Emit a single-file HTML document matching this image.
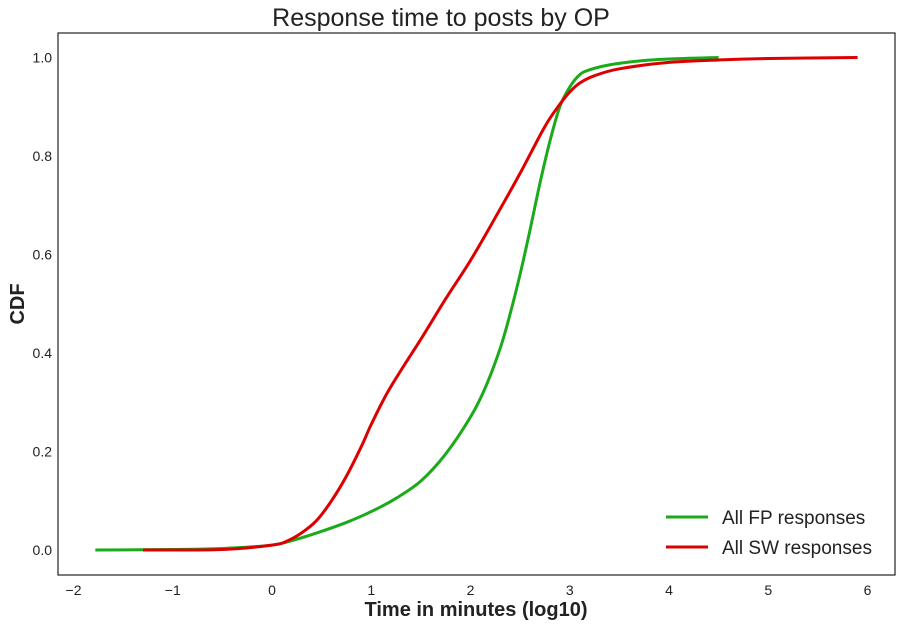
<!DOCTYPE html>
<html><head><meta charset="utf-8"><style>
body{margin:0;background:#fff;}
svg text{font-family:"Liberation Sans","DejaVu Sans",sans-serif;fill:#222;}
</style></head><body>
<svg id="chart" width="901" height="627" viewBox="0 0 901 627">
<rect x="0" y="0" width="901" height="627" fill="#fff"/>
<text x="441" y="26" font-size="25" text-anchor="middle">Response time to posts by OP</text>
<g id="xt"></g>
<g id="yt"></g>
<g id="series"></g>
<rect x="58" y="33" width="837" height="542" fill="none" stroke="#222" stroke-width="1.2"/>
<text x="476" y="616" font-size="20" font-weight="bold" text-anchor="middle">Time in minutes (log10)</text>
<text transform="translate(24,304) rotate(-90)" font-size="20" font-weight="bold" text-anchor="middle">CDF</text>
<g>
<line x1="666" y1="517" x2="708" y2="517" stroke="#1aaa1a" stroke-width="3"/>
<text x="722" y="524" font-size="19">All FP responses</text>
<line x1="666" y1="547" x2="708" y2="547" stroke="#dd0000" stroke-width="3"/>
<text x="722" y="554" font-size="19">All SW responses</text>
</g>
</svg>
<script>
const xTicks=[-2,-1,0,1,2,3,4,5,6];
const yTicks=[0.0,0.2,0.4,0.6,0.8,1.0];
const fpX=[-1.78,-1,-0.5,0,0.25,0.5,0.75,1,1.25,1.5,1.75,2,2.15,2.3,2.4,2.5,2.6,2.7,2.8,2.9,3.0,3.1,3.2,3.4,3.7,4.0,4.5];
const fpY=[0,0.001,0.003,0.01,0.022,0.038,0.056,0.078,0.105,0.14,0.195,0.27,0.33,0.41,0.48,0.56,0.65,0.745,0.83,0.9,0.94,0.965,0.975,0.985,0.993,0.997,1.0];
const swX=[-1.3,-0.5,0,0.15,0.3,0.45,0.6,0.75,0.9,1,1.15,1.3,1.5,1.75,2,2.25,2.5,2.75,2.9,3.0,3.1,3.25,3.5,4,4.5,5,5.9];
const swY=[0,0.001,0.01,0.018,0.035,0.06,0.1,0.15,0.21,0.255,0.315,0.365,0.428,0.51,0.588,0.675,0.765,0.86,0.905,0.93,0.948,0.963,0.977,0.99,0.995,0.998,1.0];
const X=v=>272+v*99.25, Y=v=>550-v*492.5;
const NS="http://www.w3.org/2000/svg";
const xt=document.getElementById('xt'), yt=document.getElementById('yt'), sg=document.getElementById('series');
xTicks.forEach(t=>{
  const tx=document.createElementNS(NS,'text');
  tx.setAttribute('x',X(t));tx.setAttribute('y',595);tx.setAttribute('font-size','14');tx.setAttribute('text-anchor','middle');
  tx.textContent=(t<0?'\u2212'+(-t):t);
  
  
  xt.appendChild(tx);
});
yTicks.forEach(t=>{
  const tx=document.createElementNS(NS,'text');
  tx.setAttribute('x',52);tx.setAttribute('y',Y(t)+5);tx.setAttribute('font-size','14');tx.setAttribute('text-anchor','end');
  tx.textContent=t.toFixed(1);
  
  
  yt.appendChild(tx);
});
function path(xs,ys){
  const p=xs.map((x,i)=>[X(x),Y(ys[i])]);
  let d='M'+p[0][0]+','+p[0][1];
  for(let i=0;i<p.length-1;i++){
    const p0=p[Math.max(0,i-1)],p1=p[i],p2=p[i+1],p3=p[Math.min(p.length-1,i+2)];
    const c1=[p1[0]+(p2[0]-p0[0])/6,p1[1]+(p2[1]-p0[1])/6];
    const c2=[p2[0]-(p3[0]-p1[0])/6,p2[1]-(p3[1]-p1[1])/6];
    d+=' C'+c1+' '+c2+' '+p2;
  }
  return d;
}
function addLine(xs,ys,col,name){
  const el=document.createElementNS(NS,'path');
  el.setAttribute('d',path(xs,ys));el.setAttribute('fill','none');el.setAttribute('stroke',col);el.setAttribute('stroke-width','3');
  
  
  sg.appendChild(el);
}
addLine(fpX,fpY,'#1aaa1a','fp-cdf-line');
addLine(swX,swY,'#dd0000','sw-cdf-line');
</script>
</body></html>
